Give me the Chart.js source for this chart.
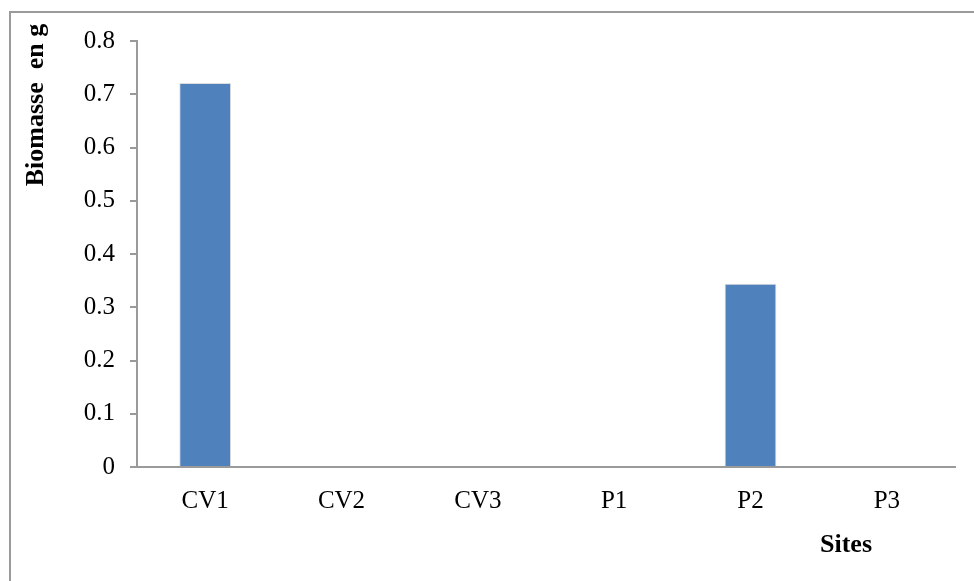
<!DOCTYPE html>
<html>
<head>
<meta charset="utf-8">
<script src="https://cdn.jsdelivr.net/npm/chart.js@4.4.1/dist/chart.umd.min.js"></script>
<style>
  html, body { margin: 0; padding: 0; background: #fff; }
  #wrap { position: relative; width: 974px; height: 581px; overflow: hidden; }
  #frame {
    position: absolute; left: 9px; top: 11px;
    width: 1000px; height: 600px;
    border-left: 2px solid #9a9a9a; border-top: 2px solid #9a9a9a;
  }
  canvas { position: absolute; left: 0; top: 0; }
</style>
</head>
<body>
<div id="wrap">
  <div id="frame"></div>
  <canvas id="chart" width="974" height="581"></canvas>
</div>
<script>
// data
const sites = ['CV1', 'CV2', 'CV3', 'P1', 'P2', 'P3'];
const biomasse = [0.721, 0, 0, 0, 0.344, 0];
const yTicks = [0, 0.1, 0.2, 0.3, 0.4, 0.5, 0.6, 0.7, 0.8];
const yTitle = 'Biomasse  en g';
const xTitle = 'Sites';

const serif = "'Liberation Serif', 'Times New Roman', serif";

// axis titles sit off-centre in the original, so draw them by hand
const axisTitles = {
  id: 'axisTitles',
  afterDraw(chart) {
    const ctx = chart.ctx;
    ctx.save();
    ctx.fillStyle = '#000';
    ctx.font = 'bold 26px ' + serif;
    ctx.textAlign = 'center';
    ctx.textBaseline = 'middle';
    ctx.fillText(xTitle, 846, 545);
    ctx.translate(36, 105);
    ctx.rotate(-Math.PI / 2);
    ctx.fillText(yTitle, 0, 0);
    ctx.restore();
  }
};

new Chart(document.getElementById('chart'), {
  type: 'bar',
  data: {
    labels: sites,
    datasets: [{
      data: biomasse,
      backgroundColor: '#4f81bd',
      borderColor: '#dcdcdc',
      borderWidth: 1,
      barPercentage: 0.38,
      categoryPercentage: 1
    }]
  },
  options: {
    responsive: false,
    animation: false,
    layout: { padding: { top: 41, right: 19, left: 0, bottom: 0 } },
    plugins: { legend: { display: false }, tooltip: { enabled: false } },
    scales: {
      x: {
        grid: { display: false, drawTicks: false },
        border: { display: true, color: '#9a9a9a', width: 2 },
        ticks: { color: '#000', font: { family: serif, size: 25 }, padding: 19 },
        afterFit(scale) { scale.height = 114; }
      },
      y: {
        min: 0,
        max: 0.8,
        afterBuildTicks(scale) { scale.ticks = yTicks.map(v => ({ value: v })); },
        grid: { drawOnChartArea: false, drawTicks: true, tickLength: 7, color: '#9a9a9a', lineWidth: 2 },
        border: { display: true, color: '#9a9a9a', width: 2 },
        ticks: {
          color: '#000',
          font: { family: serif, size: 25 },
          padding: 15,
          callback: v => String(Math.round(v * 10) / 10)
        },
        afterFit(scale) { scale.width = 137; }
      }
    }
  },
  plugins: [axisTitles]
});
</script>
</body>
</html>
